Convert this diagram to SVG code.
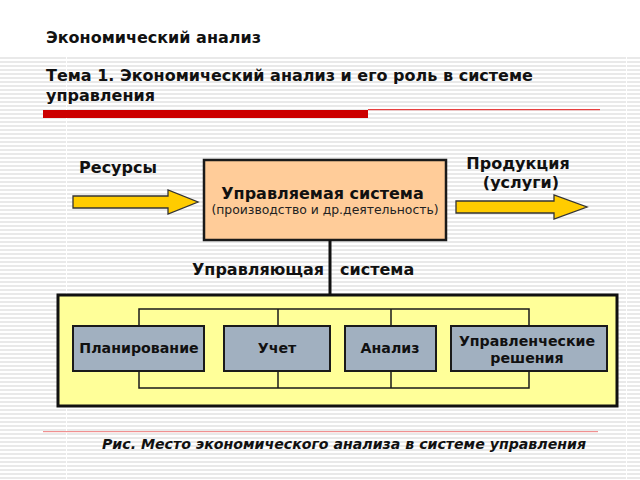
<svg xmlns="http://www.w3.org/2000/svg" width="640" height="480" viewBox="0 0 640 480">
<style>
text{font-family:"DejaVu Sans",sans-serif;font-weight:bold;fill:#111}
.m{text-anchor:middle}
.t{font-size:16px}
.n{font-size:14.2px}
.box{fill:#a1b0c0;stroke:#1a1a1a;stroke-width:2}
.arrow{fill:#ffcc00;stroke:#333;stroke-width:1.3}
.c{fill:none;stroke:#1a1a1a;stroke-width:1.5}
</style>
<defs>
<pattern id="st" width="4" height="4" patternUnits="userSpaceOnUse"><rect width="4" height="4" fill="#fff"/><rect y="1" width="4" height="2" fill="#e9e9e9"/></pattern>
</defs>
<rect width="640" height="480" fill="#fff"/>
<rect y="56" width="640" height="424" fill="url(#st)"/>
<rect x="66" y="56" width="1" height="424" fill="#fff"/>
<rect x="626" y="56" width="1" height="424" fill="#fff"/>
<g id="title">
<text class="t" x="46" y="43">Экономический анализ</text>
<text class="t" x="46" y="81">Тема 1. Экономический анализ и его роль в системе</text>
<text class="t" x="46" y="101">управления</text>
<rect x="43" y="110" width="325" height="8" fill="#cc0000"/>
<rect x="368" y="109" width="232" height="1.2" fill="#e84040"/>
</g>
<g id="resources">
<text class="t m" x="118" y="173">Ресурсы</text>
<path class="arrow" d="M73 196H168V190L198 202L168 214V208H73Z"/>
</g>
<g id="managed">
<rect x="204" y="160" width="242" height="80" fill="#ffcc99" stroke="#1a1a1a" stroke-width="2.5"/>
<text class="t m" x="322.5" y="199">Управляемая система</text>
<text x="325" y="214" class="m" style="font-weight:normal;font-size:12.4px;fill:#222">(производство и др.деятельность)</text>
</g>
<g id="product">
<text class="t m" x="518" y="169">Продукция</text>
<text class="t m" x="521" y="188">(услуги)</text>
<path class="arrow" d="M456 201H554V195L587 207L554 219V213H456Z"/>
</g>
<g id="control"><text class="t" x="192" y="275">Управляющая</text><text class="t" x="340" y="275">система</text></g>
<g id="panel"><rect x="58" y="295" width="559" height="111" fill="#ffff99" stroke="#111" stroke-width="3"/></g>
<g id="connectors">
<path d="M330 240V295" fill="none" stroke="#111" stroke-width="3"/>
<path class="c" d="M139 326V309H529V326M278 309V326M391 309V326M139 371V388H529V371M278 371V388M391 371V388"/>
</g>
<g id="plan"><rect class="box" x="73" y="326" width="131" height="45"/><text class="n m" x="139" y="353">Планирование</text></g>
<g id="acc"><rect class="box" x="224" y="326" width="106" height="45"/><text class="n m" x="277" y="353">Учет</text></g>
<g id="anal"><rect class="box" x="345" y="326" width="91" height="45"/><text class="n m" x="390" y="353">Анализ</text></g>
<g id="dec"><rect class="box" x="451" y="326" width="156" height="45"/><text class="n m" x="527" y="346">Управленческие</text><text class="n m" x="527" y="363">решения</text></g>
<g id="caption">
<rect x="43" y="431" width="555" height="1.2" fill="#f09090"/>
<text x="102" y="449" style="font-size:14.15px;font-style:italic">Рис. Место экономического анализа в системе управления</text>
</g>
</svg>
